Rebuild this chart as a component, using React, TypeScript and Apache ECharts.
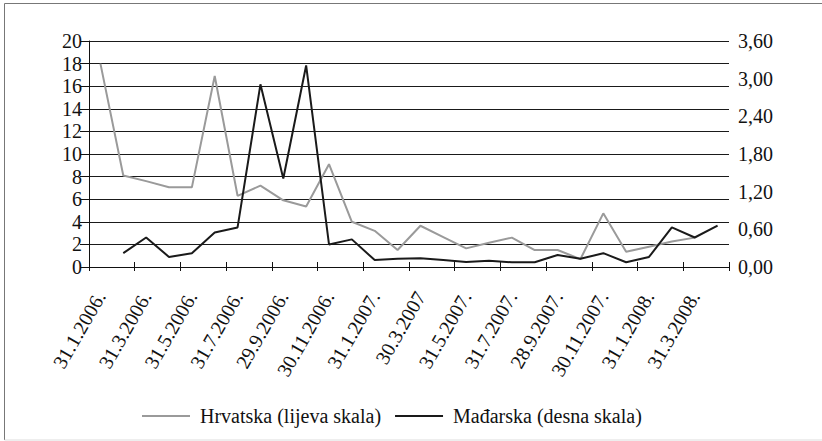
import React, { useEffect, useRef } from "react";
import * as echarts from "echarts";

const categories = [
  "31.1.2006.", "28.2.2006.", "31.3.2006.", "28.4.2006.", "31.5.2006.", "30.6.2006.",
  "31.7.2006.", "31.8.2006.", "29.9.2006.", "31.10.2006.", "30.11.2006.", "29.12.2006.",
  "31.1.2007.", "28.2.2007.", "30.3.2007", "30.4.2007.", "31.5.2007.", "29.6.2007.",
  "31.7.2007.", "31.8.2007.", "28.9.2007.", "31.10.2007.", "30.11.2007.", "31.12.2007.",
  "31.1.2008.", "29.2.2008.", "31.3.2008.", "30.4.2008.",
];

const hrvatska = [
  18, 8.1, 7.6, 7.05, 7.05, 16.9, 6.3, 7.2, 5.9, 5.35, 9.1, 4.0, 3.2, 1.5,
  3.65, 2.65, 1.65, 2.15, 2.6, 1.5, 1.5, 0.7, 4.75, 1.35, 1.8, 2.25, 2.6, null,
];

const madarska = [
  null, 0.22, 0.47, 0.16, 0.22, 0.55, 0.63, 2.91, 1.41, 3.21, 0.36, 0.44, 0.11, 0.13,
  0.14, 0.11, 0.08, 0.1, 0.075, 0.075, 0.19, 0.13, 0.22, 0.075, 0.16, 0.63, 0.47, 0.66,
];

const seriesNames = ["Hrvatska (lijeva skala)", "Mađarska (desna skala)"];

const FONT = "Liberation Serif, Times New Roman, serif";

export default function App() {
  const ref = useRef<HTMLDivElement>(null);
  useEffect(() => {
    if (!ref.current) return;
    const chart = echarts.init(ref.current, null, { renderer: "svg" });
    chart.setOption({
      animation: false,
      textStyle: { fontFamily: FONT },
      grid: { left: 89, right: 93, top: 41, bottom: 174, containLabel: false },
      legend: {
        left: 137,
        top: 401,
        itemWidth: 48,
        itemHeight: 2,
        itemGap: 14,
        icon: "rect",
        textStyle: { fontFamily: FONT, fontSize: 20, color: "#111", padding: [0, 0, 0, 5] },
        data: seriesNames,
      },
      xAxis: [
        {
          type: "category",
          data: categories,
          boundaryGap: true,
          axisLine: { show: true, lineStyle: { color: "#111", width: 1 } },
          axisTick: { show: true, interval: 1, length: 4, lineStyle: { color: "#111" } },
          axisLabel: {
            interval: 1,
            rotate: 60,
            margin: 26,
            fontSize: 20,
            fontFamily: FONT,
            color: "#111",
          },
        },
        {
          type: "category",
          data: categories,
          boundaryGap: true,
          position: "bottom",
          axisLine: { show: false },
          axisTick: { show: true, inside: true, interval: 1, length: 5, lineStyle: { color: "#111" } },
          axisLabel: { show: false },
        },
      ],
      yAxis: [
        {
          type: "value",
          min: 0,
          max: 20,
          interval: 2,
          position: "left",
          axisLine: { show: true, lineStyle: { color: "#111" } },
          axisTick: { show: true, length: 9, lineStyle: { color: "#111" } },
          axisLabel: { margin: 7, fontSize: 20, fontFamily: FONT, color: "#111" },
          splitLine: { show: true, lineStyle: { color: "#1a1a1a", width: 1 } },
        },
        {
          type: "value",
          min: 0,
          max: 3.6,
          interval: 0.6,
          position: "right",
          axisLine: { show: false },
          axisTick: { show: false },
          axisLabel: {
            margin: 9,
            fontSize: 20,
            fontFamily: FONT,
            color: "#111",
            formatter: (v: number) => v.toFixed(2).replace(".", ","),
          },
          splitLine: { show: false },
        },
      ],
      series: [
        {
          name: seriesNames[0],
          type: "line",
          data: hrvatska,
          yAxisIndex: 0,
          showSymbol: false,
          symbol: "none",
          lineStyle: { color: "#9a9a9a", width: 2 },
          itemStyle: { color: "#9a9a9a" },
        },
        {
          name: seriesNames[1],
          type: "line",
          data: madarska,
          yAxisIndex: 1,
          showSymbol: false,
          symbol: "none",
          lineStyle: { color: "#1a1a1a", width: 2 },
          itemStyle: { color: "#1a1a1a" },
        },
      ],
      graphic: [
        { type: "line", shape: { x1: 4.5, y1: 3.5, x2: 822, y2: 3.5 }, style: { stroke: "#777", lineWidth: 1 } },
        { type: "line", shape: { x1: 4.5, y1: 3.5, x2: 4.5, y2: 440 }, style: { stroke: "#777", lineWidth: 1 } },
        { type: "line", shape: { x1: 4.5, y1: 440, x2: 822, y2: 440 }, style: { stroke: "#ddd", lineWidth: 1 } },
      ],
    });
    return () => chart.dispose();
  }, []);
  return (
    <div
      ref={ref}
      style={{ position: "fixed", left: 0, top: 0, width: 822, height: 441, background: "#fff" }}
    />
  );
}
